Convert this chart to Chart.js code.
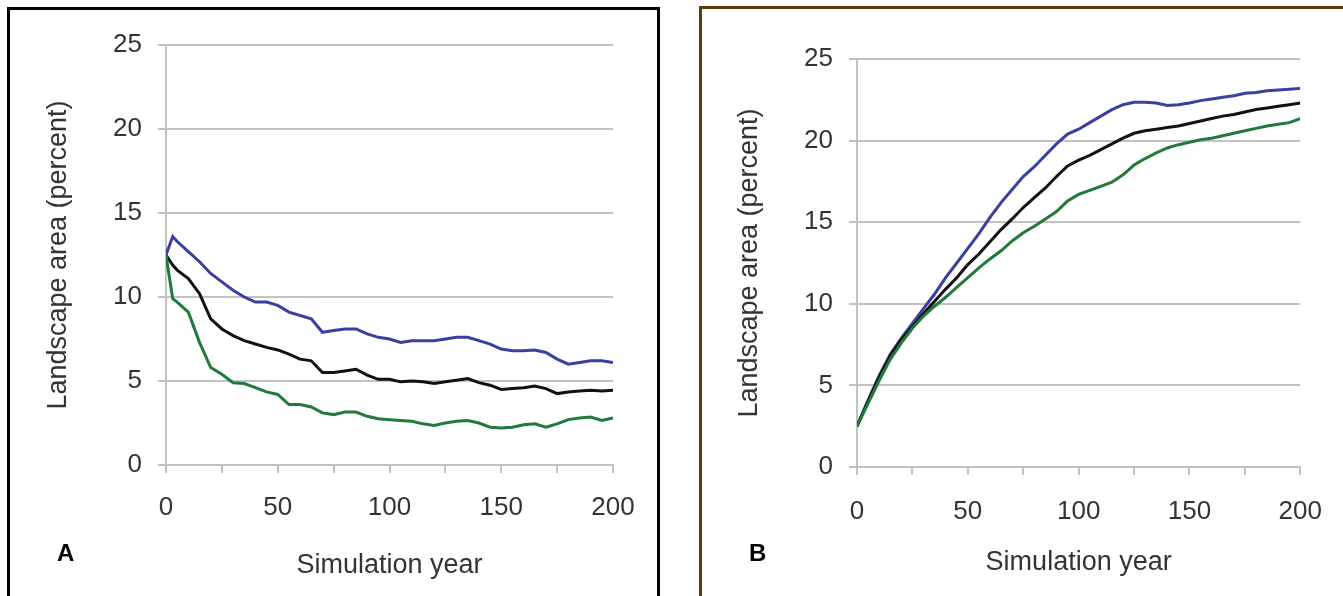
<!DOCTYPE html>
<html>
<head>
  <meta charset="utf-8">
  <title>Landscape area by simulation year</title>
  <script src="https://cdn.jsdelivr.net/npm/chart.js"></script>
  <style>
    html, body {
      margin: 0;
      padding: 0;
      background: white;
      overflow: hidden;
      font-family: 'Liberation Sans', Arial, sans-serif;
    }

    .panel {
      position: absolute;
      box-sizing: border-box;
      border: 3px solid #000;
      border-bottom: none;
    }

    #panelA { left: 7px; top: 7px; width: 653px; height: 600px; }
    #panelB { left: 699px; top: 6px; width: 660px; height: 600px; border-color: #5c3b0f; }

    .letter {
      position: absolute;
      font-weight: bold;
      font-size: 24px;
      color: #000;
      line-height: 24px;
    }

    canvas { position: absolute; top: 0; }
  </style>
</head>
<body>

<div class="panel" id="panelA"></div>
<div class="panel" id="panelB"></div>

<canvas id="chartA" width="660" height="596" style="left:0px"></canvas>
<canvas id="chartB" width="643" height="596" style="left:700px"></canvas>

<div class="letter" style="left:57px; top:541px">A</div>
<div class="letter" style="left:749px; top:541px">B</div>

<script>
  // panel A: area declining from the starting condition
  const yearsA = [0, 3, 5, 10, 15, 20, 25, 30, 35, 40, 45, 50, 55, 60, 65, 70, 75, 80, 85, 90, 95, 100,
                  105, 110, 115, 120, 125, 130, 135, 140, 145, 150, 155, 160, 165, 170, 175, 180, 185, 190, 195, 200];
  const blueA = [12.5, 13.6, 13.3, 12.7, 12.1, 11.4, 10.9, 10.4, 10.0, 9.7, 9.7, 9.5, 9.1, 8.9, 8.7, 7.9, 8.0, 8.1, 8.1, 7.8, 7.6, 7.5,
                 7.3, 7.4, 7.4, 7.4, 7.5, 7.6, 7.6, 7.4, 7.2, 6.9, 6.8, 6.8, 6.85, 6.7, 6.3, 6.0, 6.1, 6.2, 6.2, 6.1];
  const blackA = [12.5, 11.9, 11.6, 11.1, 10.2, 8.7, 8.1, 7.7, 7.4, 7.2, 7.0, 6.85, 6.6, 6.3, 6.2, 5.5, 5.5, 5.6, 5.7, 5.35, 5.1, 5.1,
                  4.95, 5.0, 4.95, 4.85, 4.95, 5.05, 5.15, 4.9, 4.75, 4.5, 4.55, 4.6, 4.7, 4.55, 4.25, 4.35, 4.4, 4.45, 4.4, 4.45];
  const greenA = [12.5, 9.9, 9.7, 9.1, 7.3, 5.8, 5.4, 4.9, 4.85, 4.6, 4.35, 4.2, 3.6, 3.6, 3.45, 3.1, 3.0, 3.15, 3.15, 2.9, 2.75, 2.7,
                  2.65, 2.6, 2.45, 2.35, 2.5, 2.6, 2.65, 2.5, 2.25, 2.2, 2.25, 2.4, 2.45, 2.25, 2.45, 2.7, 2.8, 2.85, 2.65, 2.8];

  // panel B: area growing from a low start
  const yearsB = [0, 5, 10, 15, 20, 25, 30, 35, 40, 45, 50, 55, 60, 65, 70, 75, 80, 85, 90, 95, 100,
                  105, 110, 115, 120, 125, 130, 135, 140, 145, 150, 155, 160, 165, 170, 175, 180, 185, 190, 195, 200];
  const blueB = [2.5, 4.1, 5.6, 6.9, 7.9, 8.8, 9.7, 10.6, 11.6, 12.5, 13.4, 14.3, 15.3, 16.2, 17.0, 17.8, 18.4, 19.1, 19.8, 20.4, 20.7,
                 21.1, 21.5, 21.9, 22.2, 22.35, 22.35, 22.3, 22.15, 22.2, 22.3, 22.45, 22.55, 22.65, 22.75, 22.9, 22.95, 23.05, 23.1, 23.15, 23.2];
  const blackB = [2.5, 4.0, 5.5, 6.8, 7.8, 8.6, 9.4, 10.15, 10.9, 11.6, 12.4, 13.05, 13.8, 14.55, 15.2, 15.9, 16.5, 17.1, 17.8, 18.45, 18.8,
                  19.1, 19.45, 19.8, 20.15, 20.45, 20.6, 20.7, 20.8, 20.9, 21.05, 21.2, 21.35, 21.5, 21.6, 21.75, 21.9, 22.0, 22.1, 22.2, 22.3];
  const greenB = [2.5, 3.9, 5.3, 6.6, 7.6, 8.5, 9.25, 9.85, 10.4, 11.0, 11.6, 12.2, 12.75, 13.25, 13.85, 14.35, 14.75, 15.2, 15.65, 16.3, 16.7,
                  16.95, 17.2, 17.45, 17.9, 18.5, 18.9, 19.25, 19.55, 19.75, 19.9, 20.05, 20.15, 20.3, 20.45, 20.6, 20.75, 20.9, 21.0, 21.1, 21.35];

  const xTicks = [0, 50, 100, 150, 200];
  const yTicks = [0, 5, 10, 15, 20, 25];

  const BLUE = '#3b3f9f';
  const BLACK = '#111111';
  const GREEN = '#21793a';
  const GRID = '#c2c2c2';
  const TEXT = '#333333';

  function series(years, values, color) {
    return {
      data: years.map((x, i) => ({ x: x, y: values[i] })),
      borderColor: color,
      borderWidth: 3,
      pointRadius: 0,
      tension: 0,
      fill: false
    };
  }

  function drawPanel(id, datasets, box) {
    const ctx = document.getElementById(id).getContext('2d');
    return new Chart(ctx, {
      type: 'line',
      data: { datasets: datasets },
      options: {
        responsive: false,
        animation: false,
        devicePixelRatio: 1,
        layout: { padding: { left: box.padLeft, top: box.top, right: box.padRight, bottom: 0 } },
        plugins: { legend: { display: false }, tooltip: { enabled: false } },
        scales: {
          x: {
            type: 'linear',
            min: 0,
            max: 200,
            afterFit: s => { s.height = box.xHeight; },
            afterBuildTicks: s => {
              s.ticks = [0, 25, 50, 75, 100, 125, 150, 175, 200].map(v => ({ value: v }));
            },
            ticks: {
              autoSkip: false,
              maxRotation: 0,
              padding: box.xTickPad,
              color: TEXT,
              font: { family: 'Liberation Sans', size: 26 },
              callback: v => xTicks.includes(v) ? String(v) : ''
            },
            grid: { drawOnChartArea: false, color: GRID, lineWidth: 2, tickLength: 8 },
            border: { display: true, color: GRID, width: 2 },
            title: {
              display: true,
              text: 'Simulation year',
              color: TEXT,
              font: { family: 'Liberation Sans', size: 27 },
              padding: { top: 0, bottom: box.xTitlePad }
            }
          },
          y: {
            min: 0,
            max: 25,
            afterFit: s => { s.width = box.yWidth; },
            afterBuildTicks: s => { s.ticks = yTicks.map(v => ({ value: v })); },
            ticks: {
              padding: 16,
              color: TEXT,
              font: { family: 'Liberation Sans', size: 26 }
            },
            grid: { color: GRID, lineWidth: 2, tickLength: 8 },
            border: { display: true, color: GRID, width: 2 },
            title: {
              display: true,
              text: 'Landscape area (percent)',
              color: TEXT,
              font: { family: 'Liberation Sans', size: 27 },
              padding: { top: 2, bottom: 0 }
            }
          }
        }
      }
    });
  }

  drawPanel('chartA', [
    series(yearsA, blueA, BLUE),
    series(yearsA, greenA, GREEN),
    series(yearsA, blackA, BLACK)
  ], { padLeft: 40, padRight: 47, top: 45, yWidth: 126, xHeight: 131, xTickPad: 19, xTitlePad: 14 });

  drawPanel('chartB', [
    series(yearsB, greenB, GREEN),
    series(yearsB, blackB, BLACK),
    series(yearsB, blueB, BLUE)
  ], { padLeft: 31, padRight: 42, top: 59, yWidth: 126, xHeight: 129, xTickPad: 21, xTitlePad: 17 });
</script>

</body>
</html>
